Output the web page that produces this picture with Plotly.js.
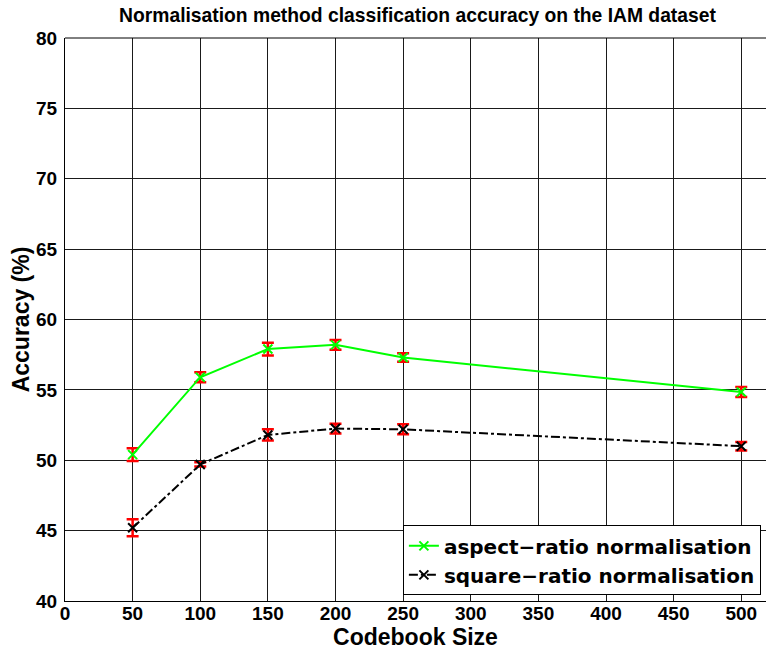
<!DOCTYPE html>
<html>
<head>
<meta charset="utf-8">
<script src="https://cdn.plot.ly/plotly-3.0.1.min.js"></script>
<style>html,body{margin:0;padding:0;background:#fff;}#chart{width:766px;height:655px;}</style>
</head>
<body>
<div id="chart"></div>
<script>
var codebookSizes = [50, 100, 150, 200, 250, 500];
var aspectAccuracy = [50.4, 55.9, 57.9, 58.2, 57.3, 54.85];
var aspectError = [0.45, 0.35, 0.45, 0.35, 0.3, 0.35];
var squareAccuracy = [45.2, 49.7, 51.8, 52.25, 52.2, 51.0];
var squareError = [0.6, 0.15, 0.4, 0.35, 0.35, 0.3];
var xTicks = [0, 50, 100, 150, 200, 250, 300, 350, 400, 450, 500];
var yTicks = [40, 45, 50, 55, 60, 65, 70, 75, 80];
var seriesNames = ["aspect\u2212ratio normalisation", "square\u2212ratio normalisation"];

var font = "Liberation Sans, Arial, sans-serif";
var errStyle = {type: 'data', visible: true, color: '#ff0000', thickness: 2.5, width: 6};

var traces = [
  {
    x: codebookSizes, y: aspectAccuracy, name: '<b>' + seriesNames[0] + '</b>', type: 'scatter', mode: 'lines+markers',
    line: {color: '#00ff00', width: 2},
    marker: {symbol: 'x-thin', size: 9, color: '#00ff00', line: {color: '#00ff00', width: 2}},
    error_y: Object.assign({array: aspectError}, errStyle)
  },
  {
    x: codebookSizes, y: squareAccuracy, name: '<b>' + seriesNames[1] + '</b>', type: 'scatter', mode: 'lines+markers',
    line: {color: '#000000', width: 2, dash: 'dashdot'},
    marker: {symbol: 'x-thin', size: 9, color: '#000000', line: {color: '#000000', width: 2}},
    error_y: Object.assign({array: squareError}, errStyle)
  }
];

var layout = {
  width: 766, height: 655,
  margin: {l: 65, r: 0, t: 38, b: 54},
  paper_bgcolor: '#ffffff', plot_bgcolor: '#ffffff',
  font: {family: font, color: '#000', size: 18},
  title: {text: '<b>Normalisation method classification accuracy on the IAM dataset</b>',
          font: {family: font, size: 19.3, color: '#000'}, x: 0.545, xanchor: 'center', y: 0.977, yanchor: 'middle'},
  xaxis: {
    range: [0, 518.3], tickvals: xTicks, ticktext: xTicks.map(function(v){return '<b>'+v+'</b>';}),
    showgrid: true, gridcolor: '#1a1a1a', gridwidth: 1, zeroline: false,
    showline: true, linecolor: '#000', linewidth: 1, ticks: '', ticklabelstandoff: -5,
    tickfont: {family: font, size: 19, color: '#000'},
    title: {text: '<b>Codebook Size</b>', font: {family: font, size: 23, color: '#000'}, standoff: 0}
  },
  yaxis: {
    range: [40, 80], tickvals: yTicks, ticktext: yTicks.map(function(v){return '<b>'+v+'</b>';}),
    showgrid: true, gridcolor: '#1a1a1a', gridwidth: 1, zeroline: false,
    showline: true, linecolor: '#000', linewidth: 1, ticks: '', ticklabelstandoff: 3,
    tickfont: {family: font, size: 19, color: '#000'},
    title: {text: '<b>Accuracy (%)</b>', font: {family: font, size: 23, color: '#000'}, standoff: 0}
  },
  shapes: [
    {type: 'line', xref: 'paper', yref: 'paper', x0: 0, x1: 1, y0: 1, y1: 1, line: {color: '#000', width: 1}}
  ],
  legend: {
    x: 0.482, y: 0.01, xanchor: 'left', yanchor: 'bottom',
    bgcolor: '#ffffff', bordercolor: '#000', borderwidth: 1,
    font: {family: 'DejaVu Sans, sans-serif', size: 20, color: '#000'},
    itemwidth: 30, tracegroupgap: 0
  },
  showlegend: true
};

Plotly.newPlot('chart', traces, layout, {displayModeBar: false, staticPlot: true});
</script>
</body>
</html>
